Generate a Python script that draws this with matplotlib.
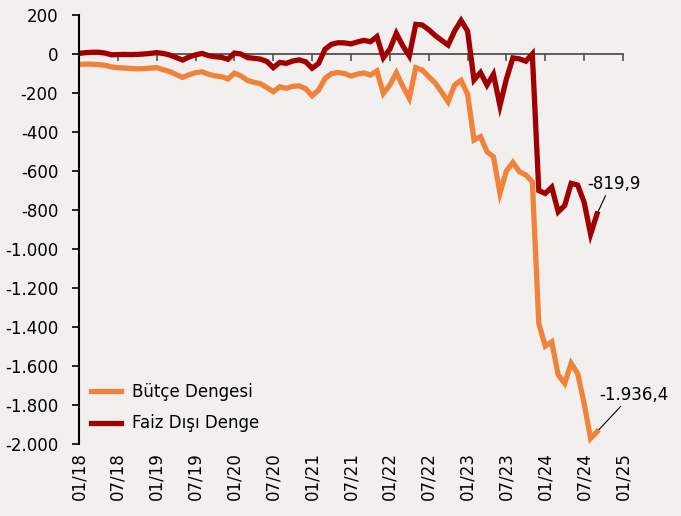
import numpy as np
import matplotlib
matplotlib.use("Agg")
import matplotlib.pyplot as plt
from matplotlib.ticker import FuncFormatter

# Veriler (aylik, 01/18 - 09/24), milyar TL
butce = [-53, -52, -52, -54, -58, -66, -70, -72, -74, -76,
         -75, -72, -70, -80, -90, -105, -120, -106, -96, -91,
         -104, -112, -116, -128, -98, -112, -135, -145, -152, -172,
         -193, -168, -176, -166, -163, -178, -214, -185, -125, -100,
         -95, -100, -113, -103, -97, -108, -87, -202, -159, -96,
         -165, -227, -70, -82, -116, -148, -195, -245, -159, -135,
         -206, -441, -424, -501, -527, -714, -600, -556, -604, -620,
         -655, -1381, -1498, -1476, -1646, -1689, -1586, -1638, -1792, -1971,
         -1936.4]
faiz_disi = [3, 7, 9, 9, 5, -4, -3, -2, -3, -2,
             0, 3, 7, 3, -5, -18, -31, -15, -4, 3,
             -8, -14, -17, -27, 5, 0, -18, -22, -26, -38,
             -70, -43, -48, -36, -30, -40, -73, -48, 25, 50,
             58, 57, 52, 62, 70, 63, 89, -19, 25, 106,
             42, -10, 152, 149, 125, 95, 70, 46, 118, 172,
             118, -133, -95, -159, -104, -265, -128, -20, -25, -37,
             0, -700, -715, -683, -809, -777, -663, -672, -760, -924,
             -819.9]
tarih_etiketleri = ["01/18", "07/18", "01/19", "07/19", "01/20", "07/20", "01/21", "07/21",
                    "01/22", "07/22", "01/23", "07/23", "01/24", "07/24", "01/25"]

x = np.arange(len(butce))
tick_pos = np.arange(len(tarih_etiketleri)) * 6

turuncu = "#F0823A"
bordo = "#A00000"
arka = "#F2F0EF"

fig = plt.figure(figsize=(6.81, 5.16), dpi=100, facecolor=arka)
ax = fig.add_axes([0.116, 0.1395, 0.7988, 0.8314], facecolor=arka)

ax.plot(x, butce, color=turuncu, lw=3.8, label="Bütçe Dengesi", solid_joinstyle="miter")
ax.plot(x, faiz_disi, color=bordo, lw=3.8, label="Faiz Dışı Denge", solid_joinstyle="miter")

ymin, ymax = -2000, 200
ax.set_ylim(ymin, ymax)
ax.set_xlim(0, 84)
ax.set_yticks(np.arange(-2000, 201, 200))
ax.yaxis.set_major_formatter(FuncFormatter(lambda v, p: f"{v:,.0f}".replace(",", ".")))
ax.tick_params(axis="y", direction="out", length=5, width=1.2, pad=10, labelsize=12)

# Tarih etiketleri altta, tik isaretleri sifir cizgisinde
ax.set_xticks(tick_pos)
ax.set_xticklabels(tarih_etiketleri, rotation=90, fontsize=12)
ax.tick_params(axis="x", length=0, pad=6)

for s in ["top", "right", "bottom"]:
    ax.spines[s].set_visible(False)
ax.spines["left"].set_linewidth(1.5)

sifir = ax.secondary_xaxis((0 - ymin) / (ymax - ymin))
sifir.set_alignment("bottom")
sifir.set_xticks(tick_pos)
sifir.set_xticklabels([])
sifir.tick_params(axis="x", direction="out", length=5, width=1.2, color="#555555")
sifir.spines["bottom"].set_color("#444444")
sifir.spines["bottom"].set_linewidth(1.2)

# Son deger etiketleri
ax.annotate("-819,9", xy=(x[-1], faiz_disi[-1]), xytext=(-10, 30),
            textcoords="offset pixels", ha="left", va="center", fontsize=12,
            arrowprops=dict(arrowstyle="-", color="black", lw=0.8,
                            relpos=(0.37, 0), shrinkA=0, shrinkB=2))
ax.annotate("-1.936,4", xy=(x[-1], butce[-1]), xytext=(2, 37),
            textcoords="offset pixels", ha="left", va="center", fontsize=12,
            arrowprops=dict(arrowstyle="-", color="black", lw=0.8,
                            relpos=(0.35, 0), shrinkA=0, shrinkB=2))

ax.legend(loc="lower left", frameon=False, fontsize=12, handlelength=1.8,
          handletextpad=0.7, labelspacing=0.8, borderaxespad=0.3)

fig.savefig("out.png", dpi=100, facecolor=arka)
